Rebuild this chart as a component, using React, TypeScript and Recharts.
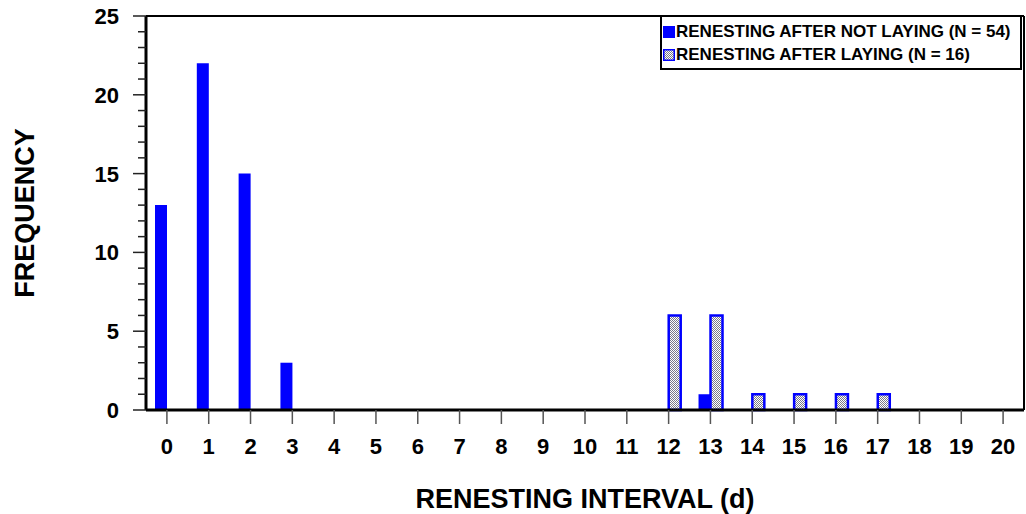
import React from 'react';
import { BarChart, Bar, XAxis, YAxis } from 'recharts';

const intervals = [0, 1, 2, 3, 4, 5, 6, 7, 8, 9, 10, 11, 12, 13, 14, 15, 16, 17, 18, 19, 20];
const afterNotLaying = [13, 22, 15, 3, 0, 0, 0, 0, 0, 0, 0, 0, 0, 1, 0, 0, 0, 0, 0, 0, 0];
const afterLaying = [0, 0, 0, 0, 0, 0, 0, 0, 0, 0, 0, 0, 6, 6, 1, 1, 1, 1, 0, 0, 0];
const yTicks = [0, 1, 2, 3, 4, 5, 6, 7, 8, 9, 10, 11, 12, 13, 14, 15, 16, 17, 18, 19, 20, 21, 22, 23, 24, 25];
const seriesNames = ['RENESTING AFTER NOT LAYING (N = 54)', 'RENESTING AFTER LAYING (N = 16)'];

const data = intervals.map((x, i) => ({ x, notLaying: afterNotLaying[i], laying: afterLaying[i] }));

const FONT = '"Liberation Sans", Arial, sans-serif';

const YTick = (props: any) => {
  const { x, y, payload } = props;
  const v = payload.value;
  const major = v % 5 === 0;
  return (
    <g>
      <line x1={x - (major ? 13 : 8)} x2={x} y1={y} y2={y} stroke="#222" strokeWidth={1.5} />
      {major && (
        <text x={x - 27} y={y} dy="0.36em" textAnchor="end" fontSize={22} fontWeight="bold" fontFamily={FONT} fill="#000">
          {v}
        </text>
      )}
    </g>
  );
};

const Swatch = ({ hatched }: { hatched: boolean }) => (
  <svg width={12} height={12} style={{ display: 'inline-block', verticalAlign: 'middle', marginRight: 1 }}>
    <defs>
      <pattern id="legendHatch" width="2" height="2" patternUnits="userSpaceOnUse">
        <rect width="2" height="2" fill="#ffffff" />
        <rect width="1" height="1" fill="#7a7a8a" />
        <rect x="1" y="1" width="1" height="1" fill="#7a7a8a" />
      </pattern>
    </defs>
    {hatched ? (
      <rect x={0.75} y={0.75} width={10.5} height={10.5} fill="url(#legendHatch)" stroke="#0000ff" strokeWidth={1.5} />
    ) : (
      <rect x={0} y={0} width={12} height={12} fill="#0000ff" />
    )}
  </svg>
);

const LegendBox = () => (
  <div
    style={{
      position: 'absolute',
      left: 660,
      top: 15,
      border: '2px solid #000',
      background: '#fff',
      padding: '2px 0 2px 1px',
      fontFamily: FONT,
      fontWeight: 'bold',
      fontSize: 17,
      color: '#000',
      boxSizing: 'border-box',
      width: 362,
      height: 55,
    }}
  >
    <div style={{ lineHeight: '23px', height: 23, whiteSpace: 'nowrap' }}>
      <Swatch hatched={false} />
      <span style={{ verticalAlign: 'middle' }}>{seriesNames[0]}</span>
    </div>
    <div style={{ lineHeight: '23px', height: 23, whiteSpace: 'nowrap' }}>
      <Swatch hatched={true} />
      <span style={{ verticalAlign: 'middle' }}>{seriesNames[1]}</span>
    </div>
  </div>
);

export default function App() {
  return (
    <div style={{ position: 'absolute', left: 0, top: 0, width: 1026, height: 514, background: '#fff' }}>
      <BarChart
        width={1026}
        height={514}
        data={data}
        margin={{ top: 15, right: 1, bottom: 0, left: 0 }}
        barGap={0}
        barSize={12}
      >
        <defs>
          <pattern id="hatch" width="2" height="2" patternUnits="userSpaceOnUse">
            <rect width="2" height="2" fill="#ffffff" />
            <rect width="1" height="1" fill="#7a7a8a" />
            <rect x="1" y="1" width="1" height="1" fill="#7a7a8a" />
          </pattern>
        </defs>
        <XAxis
          dataKey="x"
          type="category"
          height={104}
          interval={0}
          tickSize={14}
          tickMargin={14}
          axisLine={{ stroke: '#000', strokeWidth: 3 }}
          tickLine={{ stroke: '#555', strokeWidth: 1.5 }}
          tick={{ fill: '#000', fontSize: 22, fontWeight: 'bold', fontFamily: FONT }}
          label={{
            content: (p: any) => {
              const vb = p.viewBox;
              return (
                <text
                  x={vb.x + vb.width / 2}
                  y={508}
                  textAnchor="middle"
                  fontSize={27}
                  fontWeight="bold"
                  fontFamily={FONT}
                  fill="#000"
                >
                  RENESTING INTERVAL (d)
                </text>
              );
            },
          }}
        />
        <XAxis
          xAxisId="top"
          dataKey="x"
          orientation="top"
          height={1}
          tick={false}
          tickLine={false}
          axisLine={{ stroke: '#000', strokeWidth: 2 }}
        />
        <YAxis
          width={146}
          domain={[0, 25]}
          ticks={yTicks}
          interval={0}
          tickSize={0}
          tickMargin={0}
          tickLine={false}
          axisLine={{ stroke: '#000', strokeWidth: 3 }}
          tick={<YTick />}
          label={{
            content: () => (
              <text
                x={34}
                y={213}
                transform="rotate(-90 34 213)"
                textAnchor="middle"
                fontSize={27}
                fontWeight="bold"
                fontFamily={FONT}
                fill="#000"
              >
                FREQUENCY
              </text>
            ),
          }}
        />
        <YAxis
          yAxisId="right"
          orientation="right"
          width={1}
          domain={[0, 25]}
          tick={false}
          tickLine={false}
          axisLine={{ stroke: '#000', strokeWidth: 2 }}
        />
        <Bar dataKey="notLaying" name={seriesNames[0]} fill="#0000ff" isAnimationActive={false} />
        <Bar
          dataKey="laying"
          name={seriesNames[1]}
          fill="url(#hatch)"
          stroke="#0000ff"
          strokeWidth={2.5}
          isAnimationActive={false}
        />
      </BarChart>
      <LegendBox />
    </div>
  );
}
